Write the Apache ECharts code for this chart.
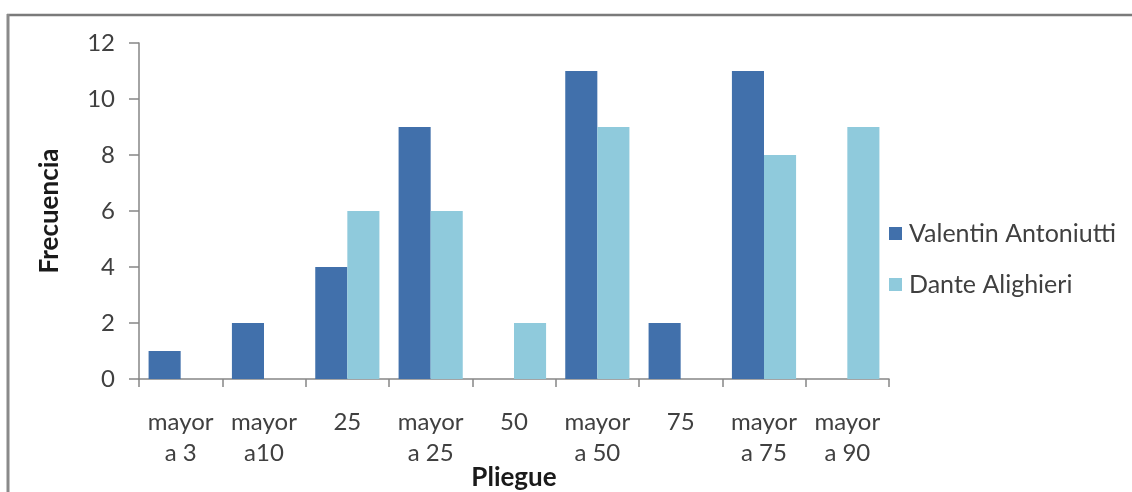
<!DOCTYPE html>
<html><head><meta charset="utf-8">
<script src="https://cdn.jsdelivr.net/npm/echarts@6/dist/echarts.min.js"></script>
<style>html,body{margin:0;padding:0;background:#fff;overflow:hidden}#c{width:1132px;height:492px}</style>
</head><body><div id="c"></div>
<script>
const categories = ['mayor\na 3','mayor\na10','25','mayor\na 25','50','mayor\na 50','75','mayor\na 75','mayor\na 90'];
const seriesNames = ['Valentin Antoniutti','Dante Alighieri'];
const valentin = [1, 2, 4, 9, 0, 11, 2, 11, 0];
const dante = [0, 0, 6, 6, 2, 9, 0, 8, 9];
const yTicks = {min: 0, max: 12, interval: 2};

const font = 'Lato, Carlito, "Open Sans", sans-serif';
const chart = echarts.init(document.getElementById('c'), null, {renderer: 'canvas', width: 1132, height: 492});
chart.setOption({
  animation: false,
  backgroundColor: '#fff',
  textStyle: {fontFamily: font},
  grid: {left: 139, width: 750, top: 43, height: 336, containLabel: false, outerBoundsMode: 'none'},
  legend: {
    orient: 'vertical', left: 884, top: 216, itemWidth: 13, itemHeight: 13, itemGap: 26,
    icon: 'rect',
    textStyle: {fontSize: 25, color: '#404040', fontFamily: font, padding: [0,0,0,2]},
    data: seriesNames
  },
  xAxis: {
    type: 'category', data: categories,
    name: 'Pliegue', nameLocation: 'middle', nameGap: 86, nameMoveOverlap: false,
    nameTextStyle: {fontSize: 26, fontWeight: 'bold', color: '#1a1a1a', fontFamily: font},
    axisLine: {lineStyle: {color: '#868686', width: 1.5}},
    axisTick: {show: true, length: 8, lineStyle: {color: '#868686', width: 1.5}},
    axisLabel: {fontSize: 24, color: '#404040', lineHeight: 31, margin: 28, interval: 0, fontFamily: font},
    splitLine: {show: false}
  },
  yAxis: {
    type: 'value', min: yTicks.min, max: yTicks.max, interval: yTicks.interval,
    name: 'Frecuencia', nameLocation: 'middle', nameGap: 76, nameRotate: 90, nameMoveOverlap: false,
    nameTextStyle: {fontSize: 26, fontWeight: 'bold', color: '#1a1a1a', fontFamily: font},
    axisLine: {show: true, lineStyle: {color: '#868686', width: 1.5}},
    axisTick: {show: true, length: 10, lineStyle: {color: '#868686', width: 1.5}},
    axisLabel: {fontSize: 24, color: '#404040', margin: 24, fontFamily: font},
    splitLine: {show: false}
  },
  series: [
    {name: seriesNames[0], type: 'bar', data: valentin, barGap: '0%', barCategoryGap: '23%',
     itemStyle: {color: '#4170AB'}},
    {name: seriesNames[1], type: 'bar', data: dante, barGap: '0%', barCategoryGap: '23%',
     itemStyle: {color: '#8FCADC'}}
  ],
  graphic: [
    {type: 'line', shape: {x1: 7, y1: 15, x2: 1132, y2: 15}, style: {stroke: '#7a7a7a', lineWidth: 2.5}},
    {type: 'line', shape: {x1: 8, y1: 14, x2: 8, y2: 492}, style: {stroke: '#8a8a8a', lineWidth: 3}}
  ]
});
</script></body></html>
